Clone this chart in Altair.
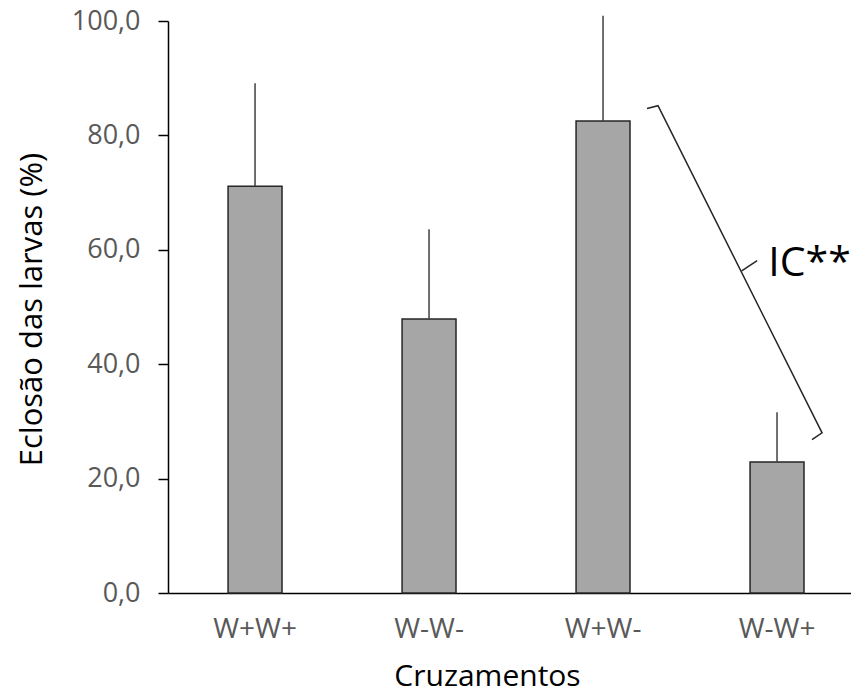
import altair as alt
import pandas as pd

# ---- data ----
categories = ["W+W+", "W-W-", "W+W-", "W-W+"]
means = [71.1, 47.9, 82.5, 22.9]
errors = [18.0, 15.7, 18.4, 8.7]

# bracket annotation (x in category units, y in % units)
bracket_x = [2.753, 2.816, 3.759, 3.701]
bracket_y = [84.7, 85.2, 28.0, 26.8]
bracket_order = [0, 1, 2, 3]
mid_x = [3.297]
mid_x2 = [3.386]
mid_y = [56.3]
mid_y2 = [58.1]
label_text = ["IC**"]
label_x = [3.45]
label_y = [57.6]

df = pd.DataFrame({"cat": categories, "mean": means, "err": errors})
df_br = pd.DataFrame({"u": bracket_x, "v": bracket_y, "o": bracket_order})
df_mid = pd.DataFrame({"u": mid_x, "u2": mid_x2, "v": mid_y, "v2": mid_y2})
df_lab = pd.DataFrame({"t": label_text, "u": label_x, "v": label_y})

FONT = "Open Sans"
W, H = 683, 572

xscale = alt.Scale(paddingInner=0.69, paddingOuter=0.3077, align=0.561)
yscale = alt.Scale(domain=[0, 100], nice=False, zero=True)

xaxis = alt.Axis(
    title="Cruzamentos", labelAngle=0, ticks=False, domainColor="#000000",
    domainWidth=1.5, labelColor="#595959", labelFont=FONT, labelFontSize=28,
    labelPadding=36, labelBaseline="middle",
    titleFont=FONT, titleFontSize=30, titleFontWeight="normal", titleColor="#000000",
    titleX=319, titleY=83, titleBaseline="middle", titleAlign="center",
)
yaxis = alt.Axis(
    title="Eclosão das larvas (%)", values=[0, 20, 40, 60, 80, 100],
    labelExpr="replace(format(datum.value, '.1f'), '.', ',')",
    grid=False, tickSize=10, tickColor="#000000", tickWidth=1.5,
    domainColor="#000000", domainWidth=1.5,
    labelColor="#595959", labelFont=FONT, labelFontSize=27, labelPadding=18,
    titleFont=FONT, titleFontSize=31, titleFontWeight="normal", titleColor="#000000",
    titleX=-136, titleY=288, titleAngle=270, titleBaseline="middle", titleAlign="center",
)

base = alt.Chart(df)

bars = base.mark_bar(color="#a6a6a6", stroke="#262626", strokeWidth=1.5).encode(
    x=alt.X("cat:N", sort=categories, scale=xscale, axis=xaxis),
    y=alt.Y("mean:Q", scale=yscale, axis=yaxis),
)

errbars = base.transform_calculate(upper="datum.mean + datum.err").mark_rule(
    color="#404040", strokeWidth=1.5
).encode(
    x=alt.X("cat:N", sort=categories, scale=xscale, axis=None),
    y=alt.Y("mean:Q", scale=yscale),
    y2="upper:Q",
)

uscale = alt.Scale(domain=[0, W / 174.0], nice=False, zero=False)

bracket = alt.Chart(df_br).mark_line(color="#262626", strokeWidth=1.5).encode(
    x=alt.X("u:Q", scale=uscale, axis=None),
    y=alt.Y("v:Q", scale=yscale),
    order="o:Q",
)
mid = alt.Chart(df_mid).mark_rule(color="#262626", strokeWidth=1.5).encode(
    x=alt.X("u:Q", scale=uscale, axis=None),
    x2="u2:Q",
    y=alt.Y("v:Q", scale=yscale),
    y2="v2:Q",
)
lab = alt.Chart(df_lab).mark_text(
    font=FONT, fontSize=41, align="left", baseline="middle", color="#000000"
).encode(
    x=alt.X("u:Q", scale=uscale, axis=None),
    y=alt.Y("v:Q", scale=yscale),
    text="t:N",
)

chart = (
    alt.layer(bars, errbars, bracket, mid, lab)
    .resolve_scale(x="independent")
    .properties(
        width=W, height=H,
        autosize=alt.AutoSizeParams(type="none"),
        padding={"left": 160, "top": 13, "right": 0, "bottom": 97},
    )
    .configure_view(stroke=None)
)

chart.save("out.html", embed_options={"renderer": "svg", "actions": False})
